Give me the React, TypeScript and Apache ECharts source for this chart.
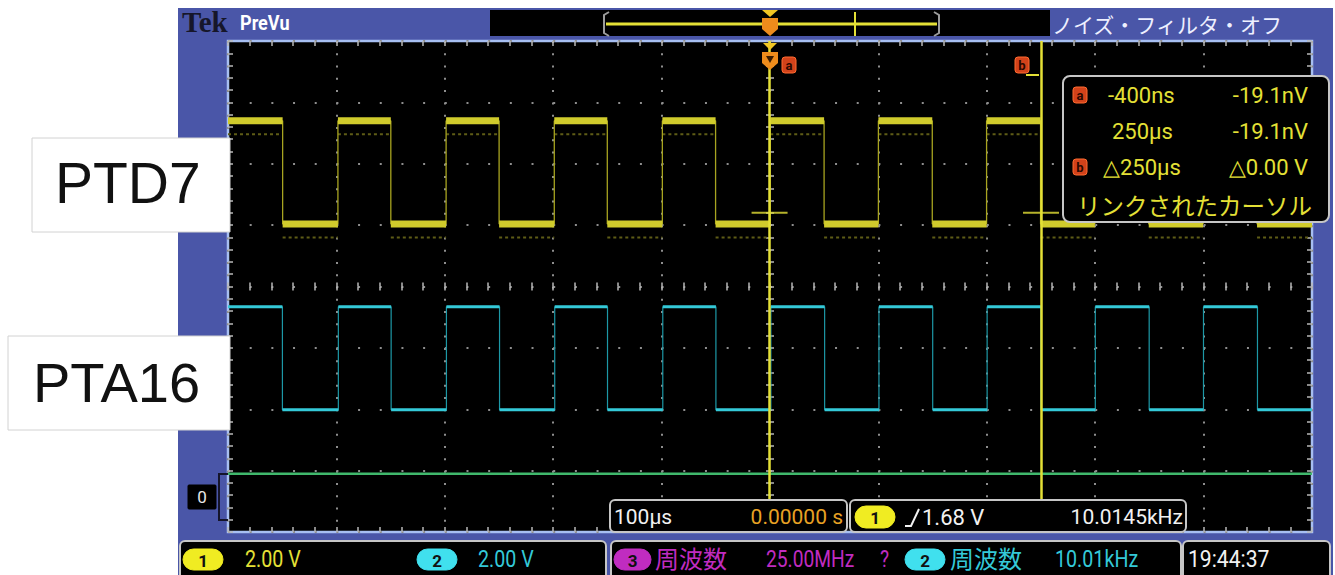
import React, { useEffect, useRef } from "react";
import * as echarts from "echarts";

// ---------------- data ----------------
const timeAxis = [-500, 500]; // µs (100 µs/div, trigger at 0)
const timeDiv = 100;
const vertAxis = [-4, 4]; // graticule divisions
const voltsPerDiv = 2.0;

const ch1Rising = [-398.6, -298.8, -199.0, -99.3, 0.2, 100.0, 199.8, 299.7, 399.5];
const ch1Falling = [-449.6, -349.8, -249.9, -150.1, -50.2, 49.9, 149.7, 249.6, 349.4, 449.3];
const ch2Rising = [-398.2, -298.5, -198.6, -98.9, 0.8, 100.5, 200.3, 300.1, 399.9];
const ch2Falling = [-449.8, -349.5, -249.5, -149.9, -49.9, 50.4, 150.1, 249.9, 349.8, 449.7];
const ch1Volts = [0.0, 3.36]; // low, high
const ch2Volts = [0.0, 3.36];
const ch1OffsetDiv = 1.02;
const ch2OffsetDiv = -2.01;
const ch1GhostShiftDiv = -0.22;
const ch4LevelDiv = -3.05;
const cursorTimes = [-0.4, 250];
const cursorLevelDiv = 1.2;

// ---------------- helpers ----------------
const FONT = 'Roboto, "Liberation Sans", sans-serif';
const CJK = '"Noto Sans CJK JP", sans-serif';
const FRAME = "#4a56a8";
const YEL = "#e4e036";
const CYAN = "#34c9d8";
const MAG = "#c02cc0";

function squareWave(rises: number[], falls: number[], low: number, high: number) {
  const edges = [
    ...rises.map((t) => ({ t, up: true })),
    ...falls.map((t) => ({ t, up: false })),
  ].sort((a, b) => a.t - b.t);
  let level = edges[0].up ? low : high;
  const pts: any[] = [[timeAxis[0], level]];
  for (const e of edges) {
    pts.push([e.t, level]);
    level = e.up ? high : low;
    pts.push([e.t, level]);
  }
  pts.push([timeAxis[1], level]);
  return pts;
}

function plateaus(pts: any[], shift: number) {
  const out: any[] = [];
  for (let i = 0; i + 1 < pts.length; i += 2) {
    out.push([pts[i][0], pts[i][1] + shift], [pts[i + 1][0], pts[i + 1][1] + shift], [pts[i + 1][0], "-"]);
  }
  return out;
}

function text(x: number, y: number, s: string, fill: string, size: number, o: any = {}) {
  const align = o.align ?? "left";
  return {
    type: "text",
    x,
    y,
    z: o.z ?? 41,
    scaleX: o.scaleX ?? 1,
    silent: true,
    style: {
      text: s,
      fill,
      font: `${o.weight ?? "normal"} ${size}px ${o.family ?? FONT}`,
      align,
      textAlign: align,
      verticalAlign: "middle",
      textVerticalAlign: "middle",
    },
  };
}

function box(x: number, y: number, w: number, h: number, o: any = {}) {
  return {
    type: "rect",
    z: o.z ?? 40,
    silent: true,
    shape: { x, y, width: w, height: h, r: o.r ?? 5 },
    style: { fill: o.fill ?? "#000", stroke: o.stroke ?? "#c6c6c6", lineWidth: o.lw ?? 2 },
  };
}

function pill(x: number, y: number, w: number, h: number, fill: string, ch: string) {
  return [
    box(x, y, w, h, { fill, stroke: fill, r: h / 2, lw: 1, z: 42 }),
    text(x + w / 2, y + h / 2 + 1, ch, "#111", 17, { align: "center", weight: "bold", z: 43 }),
  ];
}

function cursorTag(x: number, y: number, ch: string) {
  return [
    box(x, y, 14, 16, { fill: "#d2421a", stroke: "#ff6a30", r: 3, lw: 1, z: 44 }),
    text(x + 7, y + 8, ch, "#2a0800", 13, { align: "center", weight: "bold", z: 45 }),
  ];
}

function buildGraphics() {
  const g: any[] = [];
  // frame
  g.push({ type: "rect", z: -10, silent: true, shape: { x: 178, y: 8, width: 1155, height: 567 }, style: { fill: FRAME } });
  // top bar
  g.push(text(182, 22, "Tek", "#16162a", 29, { family: '"Liberation Serif", serif', weight: "bold", z: 3 }));
  g.push(text(240, 23, "PreVu", "#ffffff", 21, { weight: "bold", scaleX: 0.86, z: 3 }));
  g.push({ type: "rect", z: 1, silent: true, shape: { x: 490, y: 10, width: 560, height: 26 }, style: { fill: "#000" } });
  g.push({ type: "polyline", z: 2, silent: true, shape: { points: [[609, 12], [604, 15], [604, 33], [609, 36]] }, style: { stroke: "#9c9c9c", lineWidth: 2, fill: null } });
  g.push({ type: "polyline", z: 2, silent: true, shape: { points: [[934, 12], [939, 15], [939, 33], [934, 36]] }, style: { stroke: "#9c9c9c", lineWidth: 2, fill: null } });
  g.push({ type: "line", z: 2, silent: true, shape: { x1: 606, y1: 24, x2: 937, y2: 24 }, style: { stroke: YEL, lineWidth: 3 } });
  g.push({ type: "line", z: 2, silent: true, shape: { x1: 855, y1: 12, x2: 855, y2: 36 }, style: { stroke: YEL, lineWidth: 2 } });
  g.push({ type: "polygon", z: 3, silent: true, shape: { points: [[762, 10], [778, 10], [770, 17]] }, style: { fill: "#f2c623" } });
  g.push({ type: "polygon", z: 3, silent: true, shape: { points: [[762, 18], [778, 18], [778, 29], [770, 36], [762, 29]] }, style: { fill: "#ee8c1c" } });
  g.push(text(1052, 24, "ノイズ・フィルタ・オフ", "#eef0ff", 21, { family: CJK, z: 3 }));

  // trigger marker in plot
  g.push({ type: "polygon", z: 6, silent: true, shape: { points: [[763, 43], [777, 43], [770, 50]] }, style: { fill: "#f2c623" } });
  g.push({ type: "polygon", z: 6, silent: true, shape: { points: [[762, 52], [778, 52], [778, 63], [770, 70], [762, 63]] }, style: { fill: "#ee8c1c" } });
  g.push({ type: "polygon", z: 7, silent: true, shape: { points: [[766, 56], [774, 56], [770, 63]] }, style: { fill: "#3a1c00" } });
  g.push(...cursorTag(782, 57, "a"));
  g.push(...cursorTag(1015, 57, "b"));
  g.push({ type: "line", z: 6, silent: true, shape: { x1: 1026, y1: 75, x2: 1039, y2: 75 }, style: { stroke: YEL, lineWidth: 2 } });

  // cursor readout
  g.push(box(1063, 76, 266, 146, { r: 7 }));
  g.push(...cursorTag(1073, 87, "a"));
  g.push(text(1108, 95, "-400ns", YEL, 22));
  g.push(text(1308, 95, "-19.1nV", YEL, 22, { align: "right" }));
  g.push(text(1112, 131, "250µs", YEL, 22));
  g.push(text(1308, 131, "-19.1nV", YEL, 22, { align: "right" }));
  g.push(...cursorTag(1073, 159, "b"));
  g.push(text(1103, 167, "△250µs", YEL, 22));
  g.push(text(1308, 167, "△0.00 V", YEL, 22, { align: "right" }));
  g.push(text(1077, 205, "リンクされたカーソル", YEL, 23.5, { family: CJK }));

  // ground marker
  g.push({ type: "polyline", z: 8, silent: true, shape: { points: [[228, 474], [219, 474], [219, 520], [228, 520]] }, style: { stroke: "#15152a", lineWidth: 2, fill: null } });
  g.push(box(188, 485, 28, 24, { r: 1, stroke: "#000", lw: 1, z: 9 }));
  g.push(text(202, 497, "0", "#e8e8e8", 17, { align: "center", z: 10 }));

  // signal name labels
  g.push(box(32, 138, 198, 94, { fill: "#fff", stroke: "#d2d2d2", lw: 1, r: 0, z: 50 }));
  g.push(text(55, 183, "PTD7", "#111", 57, { family: '"Liberation Sans", Arial, sans-serif', z: 51 }));
  g.push(box(8, 336, 222, 94, { fill: "#fff", stroke: "#d2d2d2", lw: 1, r: 0, z: 50 }));
  g.push(text(33, 382, "PTA16", "#111", 56, { family: '"Liberation Sans", Arial, sans-serif', z: 51 }));

  // horizontal / trigger boxes
  g.push(box(610, 500, 237, 32));
  g.push(text(614, 517, "100µs", "#f2f2f2", 21));
  g.push(text(843, 517, "0.00000 s", "#e8a224", 21, { align: "right" }));
  g.push(box(850, 500, 336, 32));
  g.push(...pill(855, 506, 40, 22, "#f0ec22", "1"));
  g.push({ type: "polyline", z: 42, silent: true, shape: { points: [[905, 526], [911, 526], [919, 509]] }, style: { stroke: "#f2f2f2", lineWidth: 2, fill: null } });
  g.push(text(922, 517, "1.68 V", "#f2f2f2", 22));
  g.push(text(1183, 517, "10.0145kHz", "#f2f2f2", 21, { align: "right" }));

  // bottom status row
  g.push(box(180, 541, 426, 44));
  g.push(...pill(183, 549, 40, 21, "#f0ec22", "1"));
  g.push(text(245, 559, "2.00 V", YEL, 24, { scaleX: 0.82 }));
  g.push(...pill(417, 549, 40, 21, "#40e0ee", "2"));
  g.push(text(478, 559, "2.00 V", CYAN, 24, { scaleX: 0.82 }));
  g.push(box(611, 541, 570, 44));
  g.push(...pill(614, 549, 37, 21, MAG, "3"));
  g.push(text(655, 557, "周波数", MAG, 24, { family: CJK }));
  g.push(text(766, 559, "25.00MHz", MAG, 24, { scaleX: 0.8 }));
  g.push(text(880, 559, "?", MAG, 24, { scaleX: 0.8 }));
  g.push(...pill(905, 549, 40, 21, "#40e0ee", "2"));
  g.push(text(950, 557, "周波数", CYAN, 24, { family: CJK }));
  g.push(text(1055, 559, "10.01kHz", CYAN, 24, { scaleX: 0.82 }));
  g.push(box(1183, 541, 147, 44));
  g.push(text(1188, 559, "19:44:37", "#f2f2f2", 24, { scaleX: 0.88 }));
  return g;
}

function buildOption() {
  const ch1Low = ch1OffsetDiv + ch1Volts[0] / voltsPerDiv;
  const ch1High = ch1OffsetDiv + ch1Volts[1] / voltsPerDiv;
  const ch2Low = ch2OffsetDiv + ch2Volts[0] / voltsPerDiv;
  const ch2High = ch2OffsetDiv + ch2Volts[1] / voltsPerDiv;
  const ch1Wave = squareWave(ch1Rising, ch1Falling, ch1Low, ch1High);
  const ch2Wave = squareWave(ch2Rising, ch2Falling, ch2Low, ch2High);

  const tickGrey = "#b8b8b8";
  const dotGrey = "#8e8e8e";
  const xBase: any = {
    type: "value",
    min: timeAxis[0],
    max: timeAxis[1],
    interval: timeDiv,
    axisLabel: { show: false },
    splitLine: { show: false },
  };
  const yBase: any = {
    type: "value",
    min: vertAxis[0],
    max: vertAxis[1],
    interval: 1,
    axisLabel: { show: false },
    splitLine: { show: false },
  };
  const tick = (inside: boolean, len: number) => ({
    axisTick: { show: true, inside, length: len, lineStyle: { color: tickGrey, width: 1.5 } },
    minorTick: { show: true, splitNumber: 5, length: len, lineStyle: { color: tickGrey, width: 1.5 } },
  });

  const line = (data: any[], color: string, width: number, extra: any = {}) => ({
    type: "line",
    data,
    symbol: "none",
    showSymbol: false,
    connectNulls: false,
    silent: true,
    lineStyle: { color, width, ...extra },
    z: 2,
  });

  return {
    animation: false,
    backgroundColor: "#ffffff",
    grid: {
      left: 228,
      top: 41,
      width: 1084,
      height: 491,
      show: true,
      backgroundColor: "#000000",
      borderColor: "#a7bff2",
      borderWidth: 2.5,
    },
    xAxis: [
      {
        ...xBase,
        position: "bottom",
        axisLine: { show: false, onZero: false },
        ...tick(true, 5),
        splitLine: { show: true, lineStyle: { color: dotGrey, width: 2, type: [2, 10.275] } },
      },
      { ...xBase, position: "top", axisLine: { show: false, onZero: false }, ...tick(true, 5) },
      { ...xBase, position: "bottom", axisLine: { show: false, onZero: true, onZeroAxisIndex: 0 }, ...tick(true, 4) },
      { ...xBase, position: "bottom", axisLine: { show: false, onZero: true, onZeroAxisIndex: 0 }, ...tick(false, 4) },
    ],
    yAxis: [
      {
        ...yBase,
        position: "left",
        axisLine: { show: false, onZero: false },
        ...tick(true, 5),
        splitLine: { show: true, lineStyle: { color: dotGrey, width: 2, type: [2, 19.68] } },
      },
      { ...yBase, position: "right", axisLine: { show: false, onZero: false }, ...tick(true, 5) },
      { ...yBase, position: "left", axisLine: { show: false, onZero: true, onZeroAxisIndex: 0 }, ...tick(true, 4) },
      { ...yBase, position: "left", axisLine: { show: false, onZero: true, onZeroAxisIndex: 0 }, ...tick(false, 4) },
    ],
    graphic: { elements: buildGraphics() },
    series: [
      line([[timeAxis[0], ch4LevelDiv], [timeAxis[1], ch4LevelDiv]], "#40b86c", 2.5),
      line(ch2Wave, "#1d98a6", 1.2),
      line(plateaus(ch2Wave, 0), CYAN, 3),
      line(plateaus(ch1Wave, ch1GhostShiftDiv), "#5e5c16", 2, { type: [3, 3] }),
      line(ch1Wave, "#a8a420", 1.3),
      line(plateaus(ch1Wave, 0), "#d0cb2c", 7),
      {
        type: "scatter",
        data: cursorTimes.map((t) => [t, cursorLevelDiv]),
        symbol: "rect",
        symbolSize: [36, 2],
        silent: true,
        itemStyle: { color: YEL },
        z: 5,
        markLine: {
          silent: true,
          symbol: ["none", "none"],
          label: { show: false },
          lineStyle: { color: YEL, width: 2.5, type: "solid" },
          emphasis: { disabled: true },
          data: cursorTimes.map((t) => ({ xAxis: t })),
        },
      },
    ],
  };
}

export default function App() {
  const ref = useRef<HTMLDivElement>(null);
  useEffect(() => {
    const chart = echarts.init(ref.current!, null, { renderer: "svg" });
    chart.setOption(buildOption() as any);
    return () => chart.dispose();
  }, []);
  return (
    <div
      ref={ref}
      style={{ position: "fixed", left: 0, top: 0, width: 1335, height: 575, background: "#fff" }}
    />
  );
}
